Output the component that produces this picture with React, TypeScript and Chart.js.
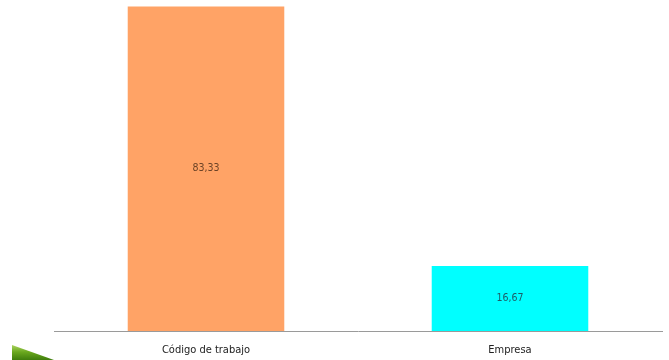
import React, { useEffect, useRef } from "react";
import { Chart, registerables } from "chart.js";

Chart.register(...registerables);

const categories = ["Código de trabajo", "Empresa"];
const values = [83.33, 16.67];
const barColors = ["#FFA366", "#00FFFF"];
const labelColors = ["#6b4226", "#1d5c66"];

const fmt = (v: number) => v.toFixed(2).replace(".", ",");

const valueLabels = {
  id: "valueLabels",
  afterDatasetsDraw(chart: any) {
    const ctx = chart.ctx;
    const meta = chart.getDatasetMeta(0);
    ctx.save();
    ctx.font = "10.5px 'DejaVu Sans Condensed', 'DejaVu Sans', sans-serif";
    ctx.textAlign = "center";
    ctx.textBaseline = "middle";
    meta.data.forEach((bar: any, i: number) => {
      const y = (bar.y + bar.base) / 2;
      ctx.fillStyle = labelColors[i];
      ctx.fillText(fmt(values[i]), bar.x, y);
    });
    ctx.restore();
  },
};

const swoosh = {
  id: "swoosh",
  afterDraw(chart: any) {
    const ctx = chart.ctx;
    ctx.save();
    const g = ctx.createLinearGradient(0, 344, 0, 360);
    g.addColorStop(0, "#b5d96a");
    g.addColorStop(0.5, "#6aa81e");
    g.addColorStop(1, "#3f7d0c");
    ctx.fillStyle = g;
    ctx.beginPath();
    ctx.moveTo(12, 345);
    ctx.lineTo(54, 360);
    ctx.lineTo(12, 360);
    ctx.closePath();
    ctx.fill();
    ctx.restore();
  },
};

export default function App() {
  const ref = useRef<HTMLCanvasElement>(null);
  useEffect(() => {
    document.body.style.margin = "0";
    const chart = new Chart(ref.current!, {
      type: "bar",
      data: {
        labels: categories,
        datasets: [
          {
            data: values,
            backgroundColor: barColors,
            borderWidth: 0,
            categoryPercentage: 1,
            barPercentage: 0.515,
          },
        ],
      },
      options: {
        animation: false,
        responsive: false,
        maintainAspectRatio: false,
        layout: { padding: { left: 54, right: 7, top: 0, bottom: 0 } },
        plugins: { legend: { display: false }, tooltip: { enabled: false } },
        scales: {
          x: {
            grid: { display: false },
            border: { display: true, color: "#9a9a9a", width: 1 },
            afterFit: (scale: any) => {
              scale.height = 29;
            },
            ticks: {
              color: "#222",
              padding: 5,
              font: { family: "'DejaVu Sans Condensed', 'DejaVu Sans', sans-serif", size: 11 },
            },
          },
          y: { display: false, min: 0, max: 85 },
        },
      },
      plugins: [valueLabels, swoosh],
    });
    return () => chart.destroy();
  }, []);
  return <canvas ref={ref} width={669} height={360} style={{ display: "block" }} />;
}
